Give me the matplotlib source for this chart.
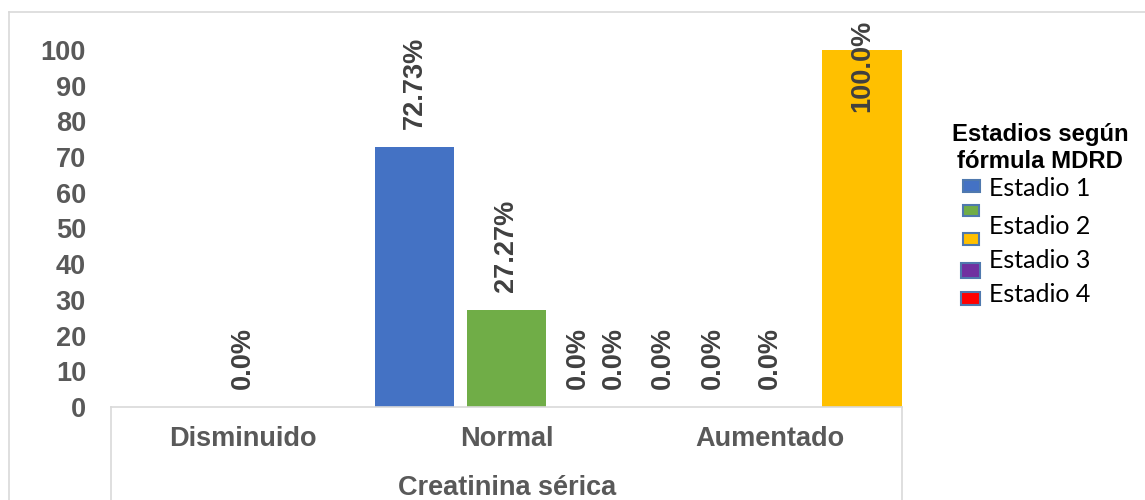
import matplotlib
matplotlib.use('Agg')
import matplotlib.pyplot as plt
from matplotlib.patches import Rectangle
from matplotlib.lines import Line2D

plt.rcParams['font.family'] = ['Liberation Sans', 'DejaVu Sans']

# datos
categories = ['Disminuido', 'Normal', 'Aumentado']
legend_title = 'Estadios según\nfórmula MDRD'
legend_names = ['Estadio 1', 'Estadio 2', 'Estadio 3', 'Estadio 4']
legend_colors = ['#4472C4', '#70AD47', '#FFC000', '#7030A0', '#FF0000']

bar_category = [0, 1, 1, 1, 1, 2, 2, 2, 2]
bar_values = [0.0, 72.73, 27.27, 0.0, 0.0, 0.0, 0.0, 0.0, 100.0]
bar_labels = ['0.0%', '72.73%', '27.27%', '0.0%', '0.0%', '0.0%', '0.0%', '0.0%', '100.0%']
bar_colors = ['#4472C4', '#4472C4', '#70AD47', '#7030A0', '#FF0000',
              '#4472C4', '#7030A0', '#FF0000', '#FFC000']

# posicion de cada barra dentro de su categoria (diseño, no datos)
bar_offset = [0.0, -0.349, 0.0, 0.269, 0.406, -0.406, -0.216, 0.0, 0.349]
bar_width = 0.303

yticks = list(range(0, 101, 10))

W, H = 1145, 500
fig = plt.figure(figsize=(W / 100, H / 100), dpi=100)
ax = fig.add_axes([111 / W, 1 - 407 / H, (902 - 111) / W, (407 - 50) / H])

label_color = '#404040'
axis_color = '#595959'
grid_color = '#D9D9D9'

xs = [c + o for c, o in zip(bar_category, bar_offset)]
ax.bar(xs, bar_values, width=bar_width, color=bar_colors, zorder=2)

for x, v, lab in zip(xs, bar_values, bar_labels):
    if v >= 90:
        # Excel lo deja dentro del area del grafico
        ax.annotate(lab, (x, 100), xytext=(0, 22), textcoords='offset points',
                    rotation=90, ha='center', va='top', fontsize=19.5,
                    fontweight='bold', color=label_color, annotation_clip=False)
    else:
        ax.annotate(lab, (x, v), xytext=(0, 13), textcoords='offset points',
                    rotation=90, ha='center', va='bottom', fontsize=19.5,
                    fontweight='bold', color=label_color)

ax.set_xlim(-0.5, 2.5)
ax.set_ylim(0, 100)
ax.set_yticks(yticks)
ax.set_yticklabels([str(t) for t in yticks], fontsize=19.5, fontweight='bold', color=axis_color)
ax.set_xticks(range(len(categories)))
ax.set_xticklabels(categories, fontsize=19.5, fontweight='bold', color=axis_color)
ax.tick_params(axis='y', length=0, pad=18)
ax.tick_params(axis='x', length=0, pad=14)

for s in ['top', 'right', 'left']:
    ax.spines[s].set_visible(False)
ax.spines['bottom'].set_color(grid_color)
ax.spines['bottom'].set_linewidth(1.2)

fig.text(507 / W, 1 - 495 / H, 'Creatinina sérica', ha='center', va='baseline',
         fontsize=19.5, fontweight='bold', color=axis_color)

# caja del eje de categorias y marco del grafico
def fig_line(x0, y0, x1, y1):
    fig.add_artist(Line2D([x0 / W, x1 / W], [1 - y0 / H, 1 - y1 / H],
                          transform=fig.transFigure, color=grid_color, lw=1.2))

fig_line(111, 407, 111, 500)
fig_line(902, 407, 902, 500)
fig_line(9, 12, 9, 500)
fig_line(9, 12, W, 12)

# leyenda manual
fig.text(1040 / W, 1 - 148 / H, legend_title, ha='center', va='center',
         fontsize=17.2, fontweight='bold', color='black', linespacing=1.2)

marker_boxes = [(963, 180, 17, 12), (963, 205, 16, 11), (963, 233, 16, 12),
                (961, 263, 19, 15), (961, 292, 19, 13)]
for (mx, my, mw, mh), col in zip(marker_boxes, legend_colors):
    fig.add_artist(Rectangle((mx / W, 1 - (my + mh) / H), mw / W, mh / H,
                             transform=fig.transFigure, facecolor=col,
                             edgecolor='#4F79AE', lw=1.5))

text_y = [188, 226, 260, 295]
for name, ty in zip(legend_names, text_y):
    fig.text(989 / W, 1 - ty / H, name, ha='left', va='center',
             fontsize=18, family=['Lato', 'DejaVu Sans'], color='black')

fig.savefig('out.png', dpi=100)
